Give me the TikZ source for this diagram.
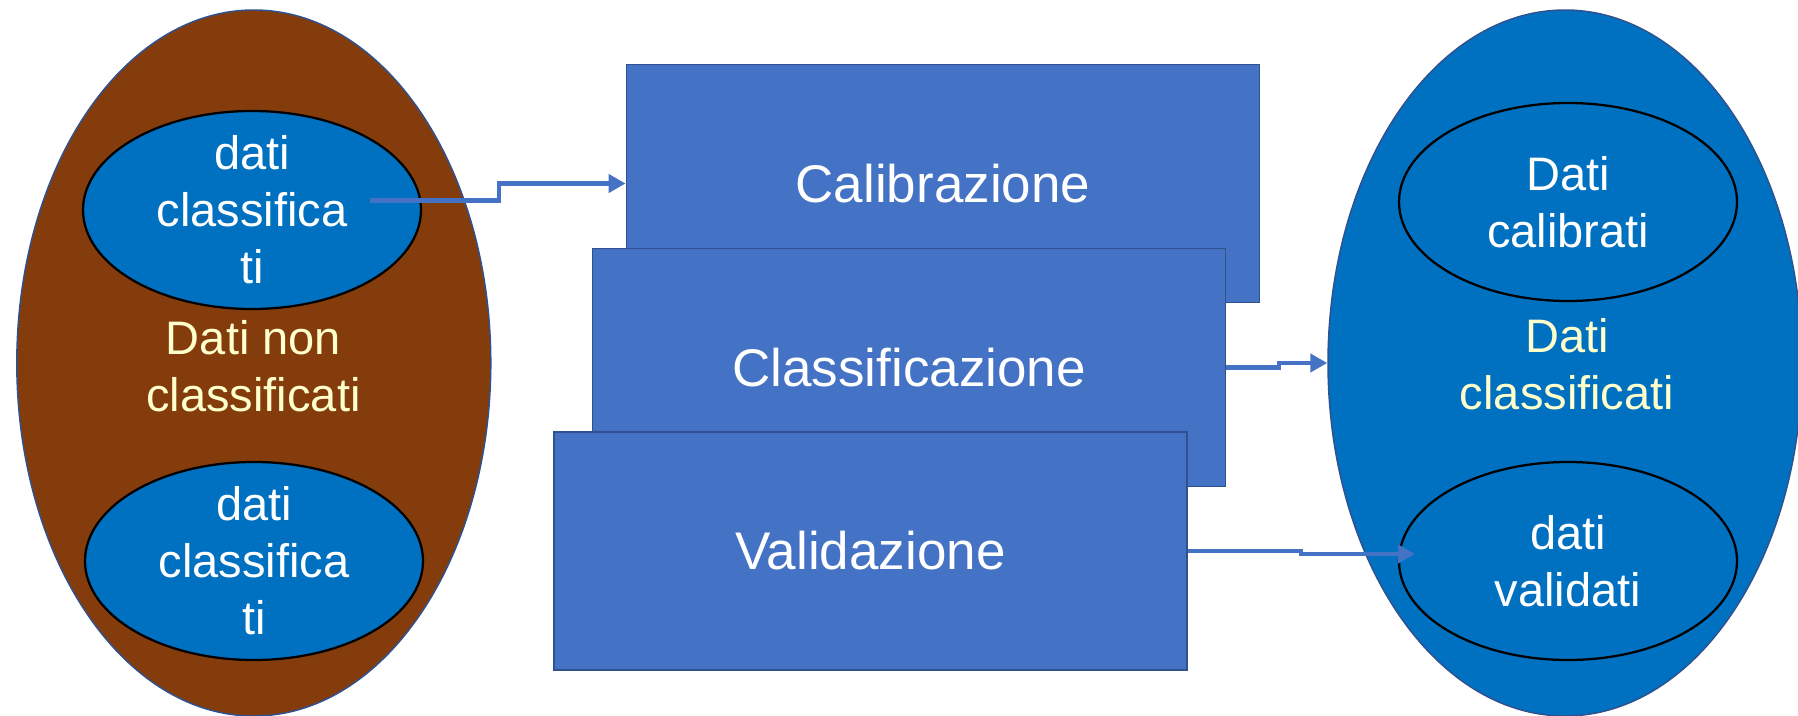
\documentclass[tikz,border=0pt]{standalone}
\usepackage{fontspec}
\setmainfont{Liberation Sans}
\usetikzlibrary{shapes.geometric,arrows.meta}
\definecolor{boxblue}{HTML}{4472C4}
\definecolor{boxedge}{HTML}{2F528F}
\definecolor{ellblue}{HTML}{0070C0}
\definecolor{brownfill}{HTML}{843C0C}
\definecolor{cream}{HTML}{FFFFCC}
\begin{document}
\begin{tikzpicture}[x=0.75pt,y=-0.75pt,
  bigell/.style={ellipse, draw=boxedge, line width=1.1pt, inner sep=0pt,
    minimum width=355.5pt, minimum height=529.5pt},
  innerell/.style={ellipse, draw=black, line width=1.7pt, fill=ellblue, inner sep=0pt,
    minimum width=253.5pt, minimum height=148.5pt},
  stepbox/.style={rectangle, draw=boxedge, line width=1.4pt, fill=boxblue, inner sep=0pt,
    minimum width=474.75pt, minimum height=178.5pt, text=white,
    font=\fontsize{39.75pt}{47pt}\selectfont},
  txt/.style={text=white, font=\fontsize{35.25pt}{42.75pt}\selectfont, align=center, inner sep=0pt},
  ctxt/.style={txt, text=cream},
  arr/.style={draw=boxblue, line width=3.4pt, -{Triangle[length=12.75pt,width=13.5pt]}}
]
\useasboundingbox (0,0) rectangle (1798,716);

% left big ellipse
\node[bigell, fill=brownfill] (lbig) at (253.8,363) {};
\node[innerell] (ltop) at (252,210) {};
\node[txt] (ltopt) at (ltop.center) {dati\\classifica\\ti};
\node[ctxt] (lmid) at (253.5,366) {Dati non\\classificati};
\node[innerell] (lbot) at (254,561) {};
\node[txt] (lbott) at (lbot.center) {dati\\classifica\\ti};

% right big ellipse
\node[bigell, fill=ellblue] (rbig) at (1565,363) {};
\node[innerell] (rtop) at (1568,202) {};
\node[txt] (rtopt) at (rtop.center) {Dati\\calibrati};
\node[ctxt] (rmid) at (1567,364) {Dati\\classificati};
\node[innerell] (rbot) at (1568,561) {};
\node[txt] (rbott) at (rbot.center) {dati\\validati};

% process boxes
\node[stepbox] (calib) at (943,183.5) {Calibrazione};
\node[stepbox] (classif) at (909,367.5) {Classificazione};
\node[stepbox] (valid) at (870.5,551) {Validazione};

% connectors
\coordinate (s1) at (370,200.5);
\coordinate (e3) at (1415,554);
\draw[arr] (s1) -- (499,200.5) |- (calib.west);
\draw[arr] (classif.east) -- (1279,367.5) |- (rbig.west);
\draw[arr] (valid.east) -- (1301,551) |- (e3);
\end{tikzpicture}
\end{document}
